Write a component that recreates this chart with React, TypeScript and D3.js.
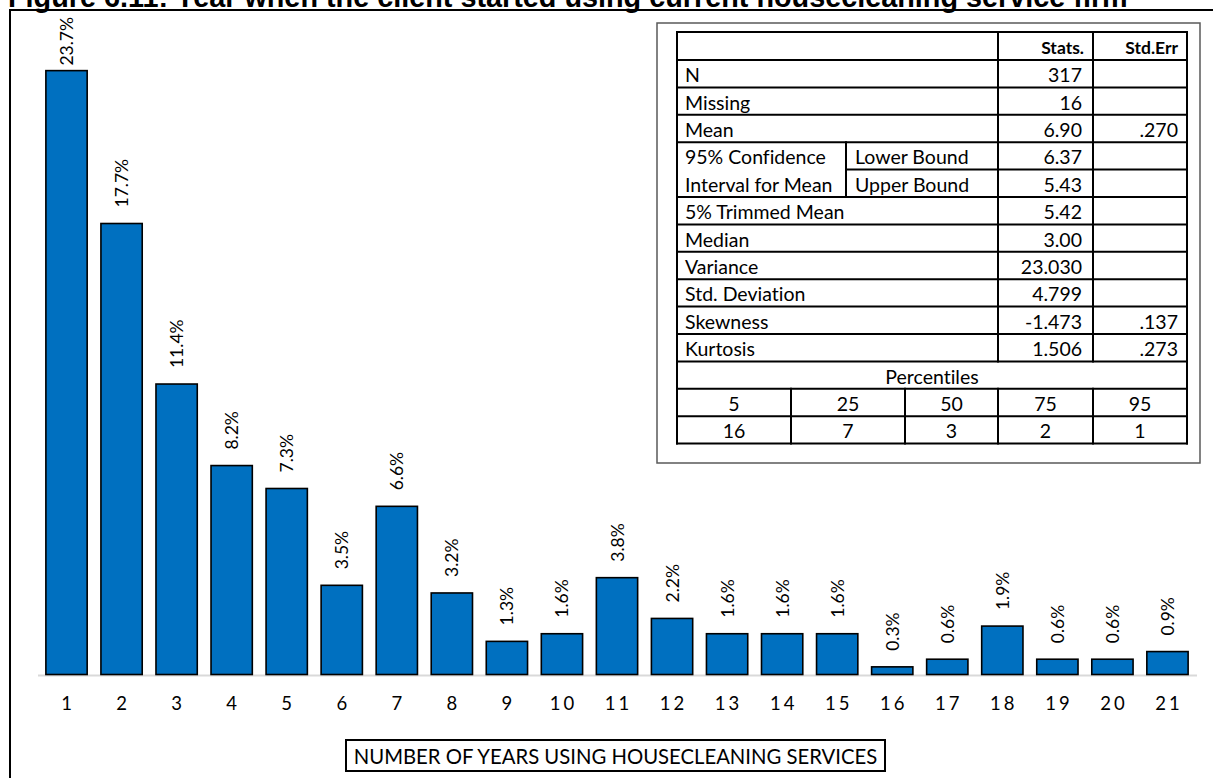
import React, { useEffect, useRef } from "react";
import * as d3 from "d3";

// Share of respondents by number of years using housecleaning services
const years = ["1", "2", "3", "4", "5", "6", "7", "8", "9", "10", "11", "12", "13", "14", "15", "16", "17", "18", "19", "20", "21"];
const shares = [23.7, 17.7, 11.4, 8.2, 7.3, 3.5, 6.6, 3.2, 1.3, 1.6, 3.8, 2.2, 1.6, 1.6, 1.6, 0.3, 0.6, 1.9, 0.6, 0.6, 0.9];

// Descriptive statistics table
const statNames = ["N", "Missing", "Mean", "Lower Bound", "Upper Bound", "5% Trimmed Mean", "Median", "Variance", "Std. Deviation", "Skewness", "Kurtosis"];
const statValues = ["317", "16", "6.90", "6.37", "5.43", "5.42", "3.00", "23.030", "4.799", "-1.473", "1.506"];
const statErrors = ["", "", ".270", "", "", "", "", "", "", ".137", ".273"];
const ciLabels = ["95% Confidence", "Interval for Mean"];
const percentileKeys = ["5", "25", "50", "75", "95"];
const percentileValues = ["16", "7", "3", "2", "1"];

const TITLE = "Figure 6.11: Year when the client started using current housecleaning service firm";
const X_TITLE = "NUMBER OF YEARS USING HOUSECLEANING SERVICES";

const W = 1213;
const H = 778;
const FONT = "Lato, 'Open Sans', 'Noto Sans', sans-serif";

export default function App() {
  const ref = useRef<SVGSVGElement | null>(null);

  useEffect(() => {
    const svg = d3.select(ref.current);
    svg.selectAll("*").remove();

    // title (runs off the top edge)
    svg.append("text")
      .attr("x", 8)
      .attr("y", 6.5)
      .attr("font-family", "'Liberation Sans', Arial, sans-serif")
      .attr("font-weight", "bold")
      .attr("font-size", 28.8)
      .attr("fill", "#000")
      .text(TITLE);

    // chart frame (open to right and bottom)
    svg.append("path")
      .attr("d", `M10,${H + 5} L10,10 L${W + 5},10`)
      .attr("fill", "none")
      .attr("stroke", "#000")
      .attr("stroke-width", 2);

    const x = d3.scaleBand<string>().domain(years).range([39, 1195]).paddingInner(0.25).paddingOuter(0.125);
    const y = d3.scaleLinear().domain([0, 25]).range([674.5, 37.5]);

    // category axis line
    svg.append("line")
      .attr("x1", 38).attr("x2", 1197)
      .attr("y1", y(0) + 1).attr("y2", y(0) + 1)
      .attr("stroke", "#d9d9d9")
      .attr("stroke-width", 2);

    const g = svg.append("g");
    g.selectAll("rect")
      .data(shares)
      .join("rect")
      .attr("x", (_, i) => x(years[i])!)
      .attr("y", (d) => y(d))
      .attr("width", x.bandwidth())
      .attr("height", (d) => y(0) - y(d))
      .attr("fill", "#0070c0")
      .attr("stroke", "#000")
      .attr("stroke-width", 1.6);

    // rotated value labels
    const labels = g.selectAll("text.val")
      .data(shares)
      .join("text")
      .attr("class", "val")
      .attr("font-family", FONT)
      .attr("font-size", 17.5)
      .attr("fill", "#000")
      .attr("dominant-baseline", "central")
      .text((d) => `${d.toFixed(1)}%`);
    labels.each(function (d, i) {
      const t = this as SVGTextElement;
      const len = t.getComputedTextLength();
      let base = y(d) - 16;
      if (base - len < 17) base = 17 + len;
      const cx = x(years[i])! + x.bandwidth() / 2;
      d3.select(t).attr("transform", `translate(${cx},${base}) rotate(-90)`);
    });

    // tick labels
    const axis = svg.append("g")
      .attr("transform", `translate(0,703)`)
      .call(d3.axisBottom(x).tickSize(0));
    axis.select(".domain").remove();
    axis.selectAll("text")
      .attr("y", 0)
      .attr("dy", "0.36em")
      .attr("dx", 1.5)
      .attr("font-family", FONT)
      .attr("font-size", 18.5)
      .attr("letter-spacing", 3)
      .attr("fill", "#000");

    // axis title box
    svg.append("rect")
      .attr("x", 346).attr("y", 740)
      .attr("width", 539).attr("height", 31)
      .attr("fill", "#fff")
      .attr("stroke", "#000")
      .attr("stroke-width", 2);
    svg.append("text")
      .attr("x", 615.5).attr("y", 756)
      .attr("text-anchor", "middle")
      .attr("dominant-baseline", "central")
      .attr("font-family", FONT)
      .attr("font-size", 20.3)
      .attr("fill", "#000")
      .text(X_TITLE);

    // statistics panel
    svg.append("rect")
      .attr("x", 657).attr("y", 23)
      .attr("width", 543).attr("height", 440)
      .attr("fill", "#fff")
      .attr("stroke", "#595959")
      .attr("stroke-width", 1.5);

    const tL = 677, tR = 1187, tT = 32;
    const cStat = 998, cErr = 1093, cCi = 846;
    const headH = 28, rowH = 27.4;
    const rowTop = (r: number) => tT + headH + r * rowH; // r = 0..13 below header
    const tB = rowTop(14);
    const pctCols = [tL, 791, 905, cStat, cErr, tR];

    const tbl = svg.append("g")
      .attr("font-family", FONT)
      .attr("fill", "#000")
      .style("font-variant-ligatures", "none");
    const lines: [number, number, number, number][] = [];
    // horizontal rules
    lines.push([tL, tT, tR, tT]);
    for (let r = 0; r <= 14; r++) {
      const yy = rowTop(r);
      if (r === 4) lines.push([cCi, yy, tR, yy]);
      else lines.push([tL, yy, tR, yy]);
    }
    // vertical rules
    lines.push([tL, tT, tL, tB]);
    lines.push([tR, tT, tR, tB]);
    lines.push([cStat, tT, cStat, rowTop(11)]);
    lines.push([cErr, tT, cErr, rowTop(11)]);
    lines.push([cCi, rowTop(3), cCi, rowTop(5)]);
    for (let k = 1; k < pctCols.length - 1; k++) lines.push([pctCols[k], rowTop(12), pctCols[k], tB]);

    tbl.selectAll("line")
      .data(lines)
      .join("line")
      .attr("x1", (d) => d[0]).attr("y1", (d) => d[1])
      .attr("x2", (d) => d[2]).attr("y2", (d) => d[3])
      .attr("stroke", "#000")
      .attr("stroke-width", 2)
      .attr("stroke-linecap", "square");

    const cell = (tx: number, ty: number, s: string, anchor: string, bold = false) =>
      tbl.append("text")
        .attr("x", tx).attr("y", ty)
        .attr("text-anchor", anchor)
        .attr("dominant-baseline", "central")
        .attr("font-weight", bold ? "bold" : "normal")
        .attr("font-size", bold ? 17.5 : 19.5)
        .text(s);

    const hc = tT + headH / 2 + 1;
    cell(cErr - 9, hc, "Stats.", "end", true);
    cell(tR - 9, hc, "Std.Err", "end", true);

    statNames.forEach((name, r) => {
      const cy = rowTop(r) + rowH / 2 + 1;
      const isCi = r === 3 || r === 4;
      if (isCi) {
        cell(cCi + 9, cy, name, "start");
        cell(tL + 8, cy, ciLabels[r - 3], "start");
      } else {
        cell(tL + 8, cy, name, "start");
      }
      cell(cErr - 11, cy, statValues[r], "end");
      if (statErrors[r]) cell(tR - 9, cy, statErrors[r], "end");
    });

    cell((tL + tR) / 2, rowTop(11) + rowH / 2 + 1, "Percentiles", "middle");
    percentileKeys.forEach((k, i) => {
      const cx = (pctCols[i] + pctCols[i + 1]) / 2;
      cell(cx, rowTop(12) + rowH / 2 + 1, k, "middle");
      cell(cx, rowTop(13) + rowH / 2 + 1, percentileValues[i], "middle");
    });
  }, []);

  return (
    <svg
      ref={ref}
      width={W}
      height={H}
      viewBox={`0 0 ${W} ${H}`}
      style={{ position: "absolute", left: 0, top: 0, background: "#fff", display: "block" }}
    />
  );
}
